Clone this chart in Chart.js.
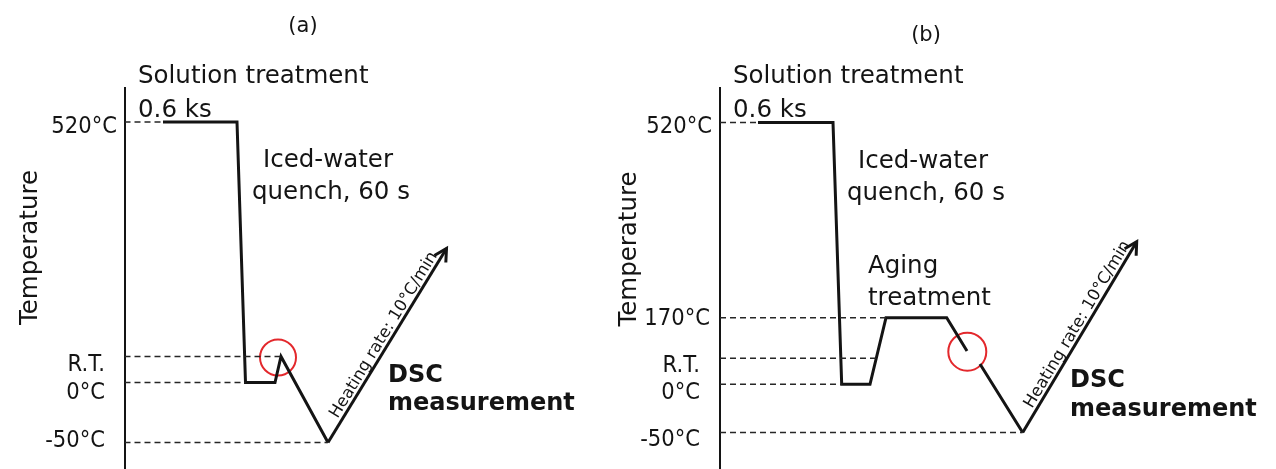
<!DOCTYPE html>
<html>
<head>
<meta charset="utf-8">
<script src="https://cdn.jsdelivr.net/npm/chart.js@4.4.1/dist/chart.umd.min.js"></script>
<style>
  html, body { margin: 0; padding: 0; background: #fff; }
  #wrap { position: relative; width: 1276px; height: 469px; }
  canvas { position: absolute; top: 0; }
  #chartA { left: 0; }
  #chartB { left: 600px; }
</style>
</head>
<body>
<div id="wrap">
  <canvas id="chartA" width="600" height="469"></canvas>
  <canvas id="chartB" width="676" height="469"></canvas>
</div>
<script>
// Schematic units: x = time measured from the temperature axis,
// y = height above the bottom edge (the diagram is not to scale).

// (a) as-quenched
const levelLabelsA = ['520°C', 'R.T.', '0°C', '-50°C'];
const levelValuesA = [347, 112.5, 86.5, 26.5];
const levelEndsA = [38.5, 156.5, 121, 203.5];
const profileXA = [38.5, 112.5, 121, 150.5, 156.5, 203.5];
const profileYA = [347, 347, 86.5, 86.5, 112.5, 26.5];
const heatXA = [203.5, 322];
const heatYA = [26.5, 220.5];
const markA = [153.5, 111.5];

// (b) aged at 170°C
const levelLabelsB = ['520°C', '170°C', 'R.T.', '0°C', '-50°C'];
const levelValuesB = [346.5, 151.3, 110.7, 84.7, 36.5];
const levelEndsB = [38, 166, 156.2, 121.7, 302.7];
const profileXB = [38, 113, 121.7, 150, 166, 226.7, 247, 253, 260, 302.7];
const profileYB = [346.5, 346.5, 84.7, 84.7, 151.3, 151.3, 118, null, 105, 36.5];
const heatXB = [302.7, 416.7];
const heatYB = [36.5, 227.3];
const markB = [247.3, 117.3];

const INK = '#141414';
const TEXT_FONT = '24.5px "DejaVu Sans", Verdana, sans-serif';
const BOLD_FONT = 'bold 24px "DejaVu Sans", Verdana, sans-serif';
const TICK_FONT = '23.5px "Liberation Sans Narrow", "DejaVu Sans Condensed", "DejaVu Sans", sans-serif';

function toPoints(xs, ys) {
  return xs.map((x, i) => ({ x: x, y: ys[i] }));
}

// text, arrow head and level labels drawn on top of the datasets
const sketchPlugin = {
  id: 'sketch',
  afterDatasetsDraw(chart, args, opts) {
    const ctx = chart.ctx;
    const xs = chart.scales.x;
    const ys = chart.scales.y;
    ctx.save();
    ctx.fillStyle = INK;
    ctx.strokeStyle = INK;

    // temperature levels
    ctx.font = TICK_FONT;
    ctx.textAlign = 'right';
    ctx.textBaseline = 'middle';
    opts.labels.forEach((lab, i) => {
      ctx.fillText(lab, xs.left - opts.tickGap[i], ys.getPixelForValue(opts.values[i]) + opts.tickShift[i]);
    });

    // panel letter
    ctx.font = '21px "DejaVu Sans", sans-serif';
    ctx.textAlign = 'center';
    ctx.fillText(opts.letter[0], opts.letter[1], opts.letter[2]);

    // axis title
    ctx.save();
    ctx.font = TEXT_FONT;
    ctx.translate(opts.title[0], opts.title[1]);
    ctx.rotate(-Math.PI / 2);
    ctx.fillText('Temperature', 0, 0);
    ctx.restore();

    // notes
    ctx.textAlign = 'left';
    ctx.textBaseline = 'alphabetic';
    opts.notes.forEach(n => {
      ctx.font = n[3] ? BOLD_FONT : TEXT_FONT;
      ctx.fillText(n[0], n[1], n[2]);
    });

    // heating arrow: head + rate label
    const pts = chart.getDatasetMeta(opts.arrowIndex).data;
    const p0 = pts[0], p1 = pts[pts.length - 1];
    const ang = Math.atan2(p1.y - p0.y, p1.x - p0.x);
    ctx.lineWidth = 3;
    ctx.lineJoin = 'miter';
    ctx.beginPath();
    ctx.moveTo(p1.x - 14 * Math.cos(ang - 0.5), p1.y - 14 * Math.sin(ang - 0.5));
    ctx.lineTo(p1.x, p1.y);
    ctx.lineTo(p1.x - 14 * Math.cos(ang + 0.5), p1.y - 14 * Math.sin(ang + 0.5));
    ctx.stroke();

    ctx.save();
    ctx.translate(p0.x, p0.y);
    ctx.rotate(ang);
    ctx.font = '16.5px "DejaVu Sans", sans-serif';
    ctx.textAlign = 'left';
    ctx.textBaseline = 'alphabetic';
    ctx.fillText('Heating rate: 10°C/min', 25, -4);
    ctx.restore();

    ctx.restore();
  }
};

function makeChart(id, cfg) {
  const datasets = [];
  cfg.values.forEach((v, i) => {
    datasets.push({
      data: [{ x: 0, y: v }, { x: cfg.ends[i], y: v }],
      borderColor: '#262626',
      borderWidth: 1.5,
      borderDash: [6, 4],
      pointRadius: 0,
      showLine: true
    });
  });
  datasets.push({
    data: toPoints(cfg.px, cfg.py),
    borderColor: INK,
    borderWidth: 3,
    borderJoinStyle: 'miter',
    pointRadius: 0,
    showLine: true,
    spanGaps: false
  });
  const arrowIndex = datasets.length;
  datasets.push({
    data: toPoints(cfg.hx, cfg.hy),
    borderColor: INK,
    borderWidth: 3,
    pointRadius: 0,
    showLine: true
  });
  datasets.push({
    data: [{ x: cfg.mark[0], y: cfg.mark[1] }],
    pointRadius: cfg.markR,
    pointBorderWidth: 2,
    pointBorderColor: '#e3282c',
    pointBackgroundColor: 'rgba(0,0,0,0)',
    showLine: false
  });

  const canvas = document.getElementById(id);
  return new Chart(canvas.getContext('2d'), {
    type: 'scatter',
    data: { datasets },
    options: {
      responsive: false,
      animation: false,
      events: [],
      layout: { autoPadding: false, padding: { top: 88, left: 0, right: 0, bottom: 0 } },
      scales: {
        x: { type: 'linear', display: false, min: 0, max: canvas.width - cfg.axisX },
        y: {
          type: 'linear', min: 0, max: 381,
          grid: { display: false },
          ticks: { display: false },
          border: { display: true, color: INK, width: 2 },
          afterFit(scale) { scale.width = cfg.axisX; }
        }
      },
      plugins: {
        legend: { display: false },
        tooltip: { enabled: false },
        sketch: {
          labels: cfg.labels, values: cfg.values,
          tickGap: cfg.tickGap, tickShift: cfg.tickShift,
          letter: cfg.letter, title: cfg.title, notes: cfg.notes,
          arrowIndex: arrowIndex
        }
      }
    },
    plugins: [sketchPlugin]
  });
}

makeChart('chartA', {
  axisX: 124.5,
  labels: levelLabelsA, values: levelValuesA, ends: levelEndsA,
  px: profileXA, py: profileYA, hx: heatXA, hy: heatYA,
  mark: markA, markR: 18,
  tickGap: [7.5, 19.5, 19.5, 19.5], tickShift: [5, 8, 10, -2],
  letter: ['(a)', 303, 27],
  title: [31, 247.5],
  notes: [
    ['Solution treatment', 138, 83],
    ['0.6 ks', 138, 117],
    ['Iced-water', 263, 167],
    ['quench, 60 s', 252, 199],
    ['DSC', 388, 382, true],
    ['measurement', 388, 410, true]
  ]
});

makeChart('chartB', {
  axisX: 120,
  labels: levelLabelsB, values: levelValuesB, ends: levelEndsB,
  px: profileXB, py: profileYB, hx: heatXB, hy: heatYB,
  mark: markB, markR: 19,
  tickGap: [8, 10, 20, 20, 20], tickShift: [4, 1.5, 8, 9, 7.5],
  letter: ['(b)', 326, 36],
  title: [30, 249],
  notes: [
    ['Solution treatment', 133, 83],
    ['0.6 ks', 133, 117],
    ['Iced-water', 258, 168],
    ['quench, 60 s', 247, 200],
    ['Aging', 268, 273],
    ['treatment', 268, 305],
    ['DSC', 470, 387, true],
    ['measurement', 470, 416, true]
  ]
});
</script>
</body>
</html>
